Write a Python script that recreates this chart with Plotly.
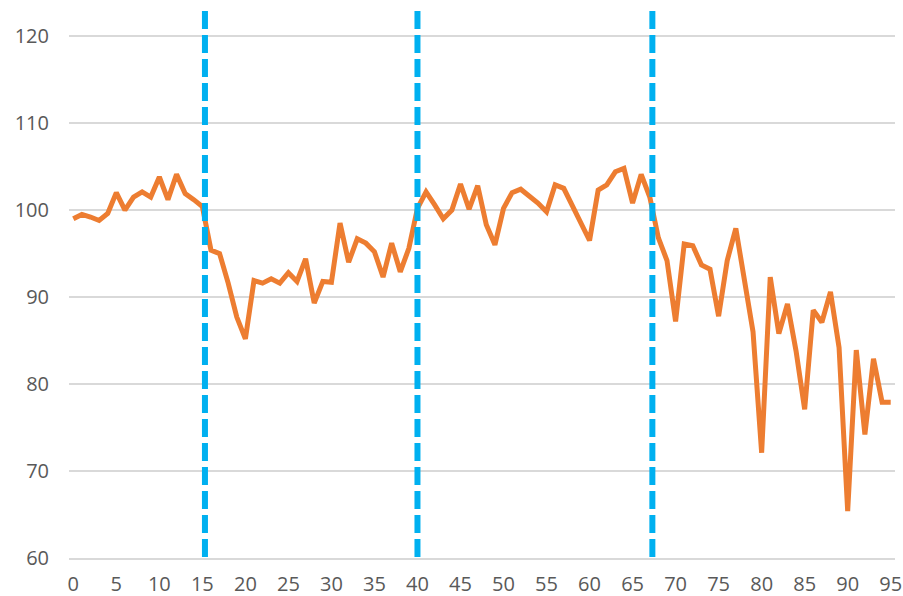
import plotly.graph_objects as go

x_values = list(range(96))
y_values = [
    99.0, 99.5, 99.2, 98.8, 99.6, 102.0, 100.0, 101.5, 102.1, 101.5,
    103.8, 101.2, 104.1, 101.9, 101.2, 100.4, 95.4, 95.0, 91.6, 87.7,
    85.2, 91.9, 91.6, 92.1, 91.6, 92.8, 91.8, 94.4, 89.3, 91.8,
    91.7, 98.5, 94.0, 96.7, 96.2, 95.2, 92.3, 96.2, 92.9, 95.6,
    100.2, 102.1, 100.6, 99.0, 100.0, 103.0, 100.1, 102.8, 98.3, 96.0,
    100.2, 102.0, 102.4, 101.6, 100.8, 99.8, 102.9, 102.5, 100.6, 98.7,
    96.5, 102.3, 102.9, 104.4, 104.8, 100.8, 104.1, 101.5, 96.8, 94.2,
    87.2, 96.1, 95.9, 93.7, 93.2, 87.8, 94.2, 97.9, 91.9, 86.0,
    72.1, 92.3, 85.8, 89.2, 83.8, 77.1, 88.5, 87.1, 90.6, 84.2,
    65.4, 83.9, 74.2, 82.9, 77.9, 77.9,
]
x_tick_values = list(range(0, 96, 5))
y_tick_values = [60, 70, 80, 90, 100, 110, 120]
break_points = [15.3, 40.0, 67.3]

fig = go.Figure()
fig.add_trace(go.Scatter(
    x=x_values, y=y_values, mode="lines",
    line=dict(color="#ED7D31", width=5),
    showlegend=False, hoverinfo="skip",
))

for bx in break_points:
    fig.add_shape(
        type="line", xref="x", yref="paper",
        x0=bx, x1=bx, y0=0.998, y1=-0.0075,
        line=dict(color="#00B0F0", width=6, dash="18px,6px"),
        layer="above",
    )

font_family = "Open Sans, Liberation Sans, sans-serif"
fig.update_layout(
    width=903, height=596,
    margin=dict(l=69, r=8, t=10, b=38),
    paper_bgcolor="white", plot_bgcolor="white",
    font=dict(family=font_family, size=20, color="#595959"),
    xaxis=dict(
        range=[-0.5, 95.5], tickmode="array", tickvals=x_tick_values,
        showgrid=False, zeroline=False, showline=True,
        linecolor="#D9D9D9", linewidth=1.5, ticks="",
        ticklabelstandoff=7, automargin=False,
    ),
    yaxis=dict(
        range=[60, 123], tickmode="array", tickvals=y_tick_values,
        showgrid=True, gridcolor="#D9D9D9", gridwidth=1.5,
        zeroline=False, showline=False, ticks="",
        ticklabelstandoff=19, automargin=False,
    ),
)

fig.write_html(
    "out.html",
    config={"displayModeBar": False, "staticPlot": True},
    post_script="document.body.style.margin='0';document.body.style.overflow='hidden';",
)
